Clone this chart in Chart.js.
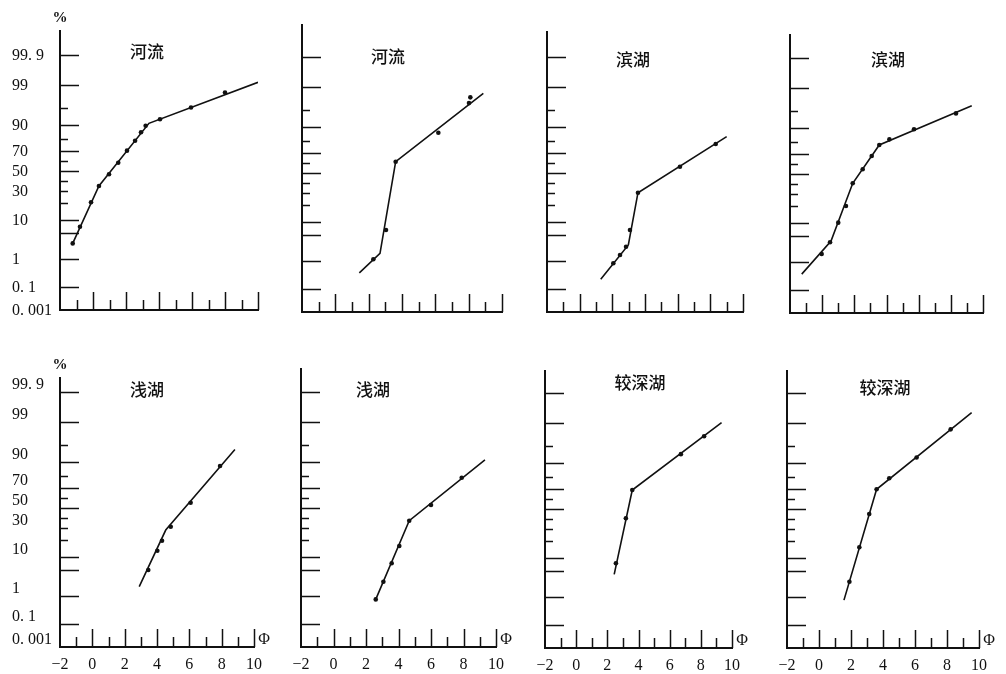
<!DOCTYPE html>
<html>
<head>
<meta charset="utf-8">
<title>粒度概率累积曲线</title>
<script src="https://cdn.jsdelivr.net/npm/chart.js@4.4.1/dist/chart.umd.min.js"></script>
<style>
body { margin: 0; background: #fff; }
#board { position: relative; width: 1006px; height: 674px; overflow: hidden; background: #fff; }
#board canvas { position: absolute; }
</style>
</head>
<body>
<div id="board"></div>
<script>
var panelTitles = ['河流', '河流', '滨湖', '滨湖', '浅湖', '浅湖', '较深湖', '较深湖'];

//probability paper: cumulative % and the height of each ruling above the 0.001 line
var probPct    = [0.001, 0.1, 1, 5, 10, 20, 30, 40, 50, 60, 70, 80, 90, 95, 99, 99.9];
var probPos    = [0, 23, 51, 77, 90, 107, 119, 129, 139, 149, 159, 171, 185, 202, 225, 255];
var probLabels = ['0. 001', '0. 1', '1', '', '10', '', '30', '', '50', '', '70', '', '90', '', '99', '99. 9'];
var probLong   = [0, 1, 1, 1, 1, 0, 0, 0, 1, 0, 1, 0, 1, 0, 1, 1];

//phi axis
var phiTicks  = [-2, -1, 0, 1, 2, 3, 4, 5, 6, 7, 8, 9, 10];

//samples (phi, cumulative %) and the fitted segments
var river1Phi = [-1.23, -0.79, -0.12, 0.36, 0.97, 1.53, 2.06, 2.55, 2.91, 3.19, 4.06, 5.94, 8.0];
var river1Pct = [3.4, 7.4, 20.6, 35, 46.7, 58.3, 70.3, 78.6, 84.8, 89.5, 91.7, 95.1, 97.7];
var river1FitPhi = [-1.23, 0.36, 3.39, 10.0];
var river1FitPct = [3.4, 35, 90.5, 99.08];

var river2Phi = [2.28, 3.04, 3.62, 6.18, 8.02, 8.10];
var river2Pct = [1.26, 6.92, 61.3, 85.9, 96.2, 97.2];
var river2FitPhi = [1.44, 2.68, 3.62, 8.88];
var river2FitPct = [0.62, 2.18, 61.3, 97.9];

var shore1Phi = [2.06, 2.47, 2.84, 3.08, 3.57, 6.14, 8.33];
var shore1Pct = [0.93, 1.92, 3.2, 6.92, 30.3, 56.3, 77.5];
var shore1FitPhi = [1.29, 2.98, 3.57, 9.0];
var shore1FitPct = [0.41, 3.46, 30.3, 83.1];

var shore2Phi = [-0.03, 0.49, 1.0, 1.48, 1.90, 2.52, 3.08, 3.55, 4.18, 5.71, 8.32];
var shore2Pct = [2.23, 4.03, 10.2, 20, 40.7, 54.7, 68, 77.5, 81.9, 89.1, 94.3];
var shore2FitPhi = [-1.27, 0.55, 1.90, 3.55, 9.3];
var shore2FitPct = [0.61, 4.23, 40.7, 77.5, 95.9];

var shallow1Phi = [3.46, 4.02, 4.31, 4.85, 6.08, 7.9];
var shallow1Pct = [5, 13.7, 19.6, 31.3, 55.3, 87.1];
var shallow1FitPhi = [2.90, 4.54, 8.82];
var shallow1FitPct = [2.43, 28.3, 93.7];

var shallow2Phi = [2.60, 3.07, 3.58, 4.05, 4.66, 6.0, 7.89];
var shallow2Pct = [0.89, 3.2, 7.58, 16.5, 37.3, 53, 78.6];
var shallow2FitPhi = [2.60, 4.66, 9.32];
var shallow2FitPct = [0.89, 37.3, 90.6];

var deep1Phi = [2.55, 3.19, 3.60, 6.72, 8.21];
var deep1Pct = [7.96, 40.7, 69, 92.6, 96.7];
var deep1FitPhi = [2.44, 3.60, 9.33];
var deep1FitPct = [4.49, 69, 99.01];

var deep2Phi = [1.90, 2.52, 3.14, 3.60, 4.39, 6.10, 8.23];
var deep2Pct = [3.35, 16.3, 45, 69.7, 78.9, 91.6, 97.9];
var deep2FitPhi = [1.56, 3.60, 9.54];
var deep2FitPct = [0.90, 69.7, 99.31];

var dotPhi = [river1Phi, river2Phi, shore1Phi, shore2Phi, shallow1Phi, shallow2Phi, deep1Phi, deep2Phi];
var dotPct = [river1Pct, river2Pct, shore1Pct, shore2Pct, shallow1Pct, shallow2Pct, deep1Pct, deep2Pct];
var fitPhi = [river1FitPhi, river2FitPhi, shore1FitPhi, shore2FitPhi, shallow1FitPhi, shallow2FitPhi, deep1FitPhi, deep2FitPhi];
var fitPct = [river1FitPct, river2FitPct, shore1FitPct, shore2FitPct, shallow1FitPct, shallow2FitPct, deep1FitPct, deep2FitPct];

//where each little plot sits on the page
var cellH = 337;
var panels = [
    {cellX: 0,   cellY: 0,   cellW: 270, left: 60,  right: 258, top: 31,  bottom: 310, titleDx: 87, titleDy: 21},
    {cellX: 270, cellY: 0,   cellW: 250, left: 302, right: 502, top: 25,  bottom: 312, titleDx: 86, titleDy: 32},
    {cellX: 520, cellY: 0,   cellW: 250, left: 547, right: 743, top: 32,  bottom: 312, titleDx: 86, titleDy: 28},
    {cellX: 770, cellY: 0,   cellW: 236, left: 790, right: 983, top: 35,  bottom: 313, titleDx: 98, titleDy: 25},
    {cellX: 0,   cellY: 337, cellW: 270, left: 60,  right: 254, top: 378, bottom: 647, titleDx: 87, titleDy: 12},
    {cellX: 270, cellY: 337, cellW: 250, left: 301, right: 496, top: 369, bottom: 647, titleDx: 72, titleDy: 21},
    {cellX: 520, cellY: 337, cellW: 250, left: 545, right: 732, top: 371, bottom: 648, titleDx: 95, titleDy: 12},
    {cellX: 770, cellY: 337, cellW: 236, left: 787, right: 979, top: 371, bottom: 648, titleDx: 98, titleDy: 17}
];

var ink = '#111';
var numFont = 'Liberation Serif';

//cumulative % -> height on the probability paper
function pctToPos(p)
{
    for (var i = 0; i < probPct.length - 1; i++) {
        if (p <= probPct[i + 1]) {
            var t = (p - probPct[i]) / (probPct[i + 1] - probPct[i]);
            return probPos[i] + t * (probPos[i + 1] - probPos[i]);
        }
    }
    return probPos[probPos.length - 1];
}

function toXY(xs, ps)
{
    var out = [];
    for (var i = 0; i < xs.length; i++) {
        out.push({x: xs[i], y: pctToPos(ps[i])});
    }
    return out;
}

//inward tick marks, panel title, % and phi signs
function paperDecor(k)
{
    var p = panels[k];
    return {
        id: 'paperDecor',
        afterDraw: function(chart) {
            var ctx = chart.ctx;
            var area = chart.chartArea;
            var xs = chart.scales.x;
            var ys = chart.scales.y;
            ctx.save();
            ctx.strokeStyle = ink;
            ctx.lineWidth = 1.5;
            ctx.beginPath();
            for (var i = 1; i < probPos.length; i++) {
                var y = Math.round(ys.getPixelForValue(probPos[i])) + 0.5;
                ctx.moveTo(area.left, y);
                ctx.lineTo(area.left + (probLong[i] ? 19 : 8), y);
            }
            for (var j = 0; j < phiTicks.length; j++) {
                var v = phiTicks[j];
                if (v === -2) continue;
                var x = Math.round(xs.getPixelForValue(v)) + 0.5;
                ctx.moveTo(x, area.bottom);
                ctx.lineTo(x, area.bottom - (v % 2 === 0 ? 18 : 10));
            }
            ctx.stroke();

            ctx.fillStyle = ink;
            ctx.textAlign = 'center';
            ctx.textBaseline = 'middle';
            ctx.font = '500 17px "Noto Sans CJK SC"';
            ctx.fillText(panelTitles[k], area.left + p.titleDx, area.top + p.titleDy);

            if (k % 4 === 0) {
                ctx.font = 'bold 15px "' + numFont + '"';
                ctx.fillText('%', area.left, area.top - 13);
            }
            if (k >= 4) {
                ctx.font = '16px "' + numFont + '"';
                ctx.fillText('Φ', area.right + 10, area.bottom - 7);
            }
            ctx.restore();
        }
    };
}

function makePanel(k)
{
    var p = panels[k];
    var canvas = document.createElement('canvas');
    canvas.width = p.cellW;
    canvas.height = cellH;
    canvas.style.left = p.cellX + 'px';
    canvas.style.top = p.cellY + 'px';
    document.getElementById('board').appendChild(canvas);

    var padLeft = 12;
    var chart = new Chart(canvas, {
        type: 'scatter',
        data: {
            datasets: [
                {label: 'fit', data: toXY(fitPhi[k], fitPct[k]), showLine: true,
                 borderColor: ink, borderWidth: 1.6, pointRadius: 0, tension: 0},
                {label: 'samples', data: toXY(dotPhi[k], dotPct[k]), showLine: false,
                 pointRadius: 2.3, backgroundColor: ink, borderWidth: 0}
            ]
        },
        options: {
            responsive: false,
            animation: false,
            events: [],
            layout: {padding: {left: padLeft, right: p.cellX + p.cellW - p.right, top: p.top - p.cellY, bottom: 0}},
            plugins: {legend: {display: false}, tooltip: {enabled: false}},
            scales: {
                x: {
                    type: 'linear', min: -2, max: 10,
                    afterBuildTicks: function(s) { s.ticks = phiTicks.map(function(v) { return {value: v}; }); },
                    afterFit: function(s) { s.height = p.cellY + cellH - p.bottom; },
                    grid: {display: false, drawTicks: false},
                    border: {display: true, color: ink, width: 2},
                    ticks: {
                        display: k >= 4, autoSkip: false, maxRotation: 0, padding: 8,
                        color: ink, font: {family: numFont, size: 16},
                        callback: function(v) { return v % 2 === 0 ? (v < 0 ? '\u2212' + (-v) : '' + v) : ''; }
                    }
                },
                y: {
                    type: 'linear', min: 0, max: p.bottom - p.top,
                    afterBuildTicks: function(s) { s.ticks = probPos.map(function(v) { return {value: v}; }); },
                    afterFit: function(s) { s.width = p.left - p.cellX - padLeft; },
                    grid: {display: false, drawTicks: false},
                    border: {display: true, color: ink, width: 2},
                    ticks: {
                        display: k % 4 === 0, autoSkip: false, crossAlign: 'far', padding: 0,
                        labelOffset: k < 4 ? 1 : -7,
                        color: ink, font: {family: numFont, size: 16},
                        callback: function(v, i) { return probLabels[i]; }
                    }
                }
            }
        },
        plugins: [paperDecor(k)]
    });
    return chart;
}

for (var k = 0; k < panels.length; k++) {
    makePanel(k);
}
</script>
</body>
</html>
